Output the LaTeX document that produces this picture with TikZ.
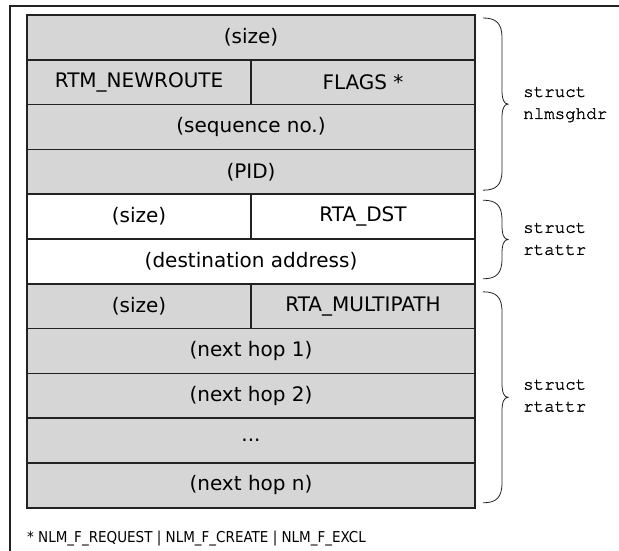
\documentclass[tikz,border=0pt]{standalone}
\usepackage{fontspec}
\setmainfont{DejaVu Sans}
\setmonofont[Extension=.otf,UprightFont=texgyrecursor-regular,FakeBold=1.6]{texgyrecursor}
\newfontfamily\notefont[FakeStretch=0.9]{DejaVu Sans}
\usetikzlibrary{positioning,calc}
\definecolor{cellgray}{RGB}{214,214,214}
\definecolor{linegray}{RGB}{34,34,34}

\newcommand{\fieldbrace}[2]{%
  \draw[brc] let \p1=(#1), \p2=(#2), \p3=($(#1)!0.5!(#2)$) in
    (\x1,\y1) .. controls (\x1+13pt,\y1) and (\x1+19pt,\y1-5pt) .. (\x1+19pt,\y1-20pt)
    -- (\x1+19pt,\y3+14pt)
    .. controls (\x1+19pt,\y3+5pt) and (\x1+21pt,\y3) .. (\x1+25pt,\y3)
    .. controls (\x1+21pt,\y3) and (\x1+19pt,\y3-5pt) .. (\x1+19pt,\y3-14pt)
    -- (\x1+19pt,\y2+20pt)
    .. controls (\x1+19pt,\y2+5pt) and (\x1+13pt,\y2) .. (\x1,\y2);}

\begin{document}
\begin{tikzpicture}[x=1pt,y=-1pt,
    cell/.style={draw=linegray, line width=1.6pt, outer sep=0pt, inner sep=0pt,
      minimum height=44.8pt, anchor=north west, font=\fontsize{20}{24}\selectfont},
    full/.style={cell, minimum width=448pt},
    half/.style={cell, minimum width=224pt},
    hdr/.style={fill=cellgray},
    attr/.style={fill=white},
    lbl/.style={font=\ttfamily\fontsize{17.5}{22}\selectfont, align=left, anchor=west, inner sep=0pt},
    brc/.style={draw=linegray, line width=0.8pt}]
    \useasboundingbox (0,0) rectangle (619,551);
    \draw[linegray, line width=2pt] (10,551) -- (10,6) -- (619,6);

    \node[full,hdr] (hdrsize) at (27,15) {(size)};
    \node[half,hdr,below right=0pt and 0pt of hdrsize.south west] (msgtype) {RTM\_NEWROUTE};
    \node[half,hdr,right=0pt of msgtype] (flags) {FLAGS *};
    \node[full,hdr,below right=0pt and 0pt of msgtype.south west] (seqno) {(sequence no.)};
    \node[full,hdr,below right=0pt and 0pt of seqno.south west] (pid) {(PID)};

    \node[half,attr,below right=0pt and 0pt of pid.south west] (dstsize) {(size)};
    \node[half,attr,right=0pt of dstsize] (dsttype) {RTA\_DST};
    \node[full,attr,below right=0pt and 0pt of dstsize.south west] (dstaddr) {(destination address)};

    \node[half,hdr,below right=0pt and 0pt of dstaddr.south west] (mpsize) {(size)};
    \node[half,hdr,right=0pt of mpsize] (mptype) {RTA\_MULTIPATH};
    \node[full,hdr,below right=0pt and 0pt of mpsize.south west] (hop1) {(next hop 1)};
    \node[full,hdr,below right=0pt and 0pt of hop1.south west] (hop2) {(next hop 2)};
    \node[full,hdr,below right=0pt and 0pt of hop2.south west] (hopdots) {...};
    \node[full,hdr,below right=0pt and 0pt of hopdots.south west] (hopn) {(next hop n)};

    \fieldbrace{[xshift=8pt,yshift=-3pt]hdrsize.north east}{[xshift=8pt,yshift=4pt]pid.south east}
    \fieldbrace{[xshift=8pt,yshift=-6pt]dsttype.north east}{[xshift=8pt,yshift=5pt]dstaddr.south east}
    \fieldbrace{[xshift=8pt,yshift=-8pt]mptype.north east}{[xshift=8pt,yshift=5pt]hopn.south east}

    \node[lbl,right=48pt of $(hdrsize.north east)!0.5!(pid.south east)$] (hdrlabel) {struct\\nlmsghdr};
    \node[lbl,right=48pt of $(dsttype.north east)!0.5!(dstaddr.south east)$] (dstlabel) {struct\\rtattr};
    \node[lbl,right=48pt of $(mptype.north east)!0.5!(hopn.south east)$] (mplabel) {struct\\rtattr};

    \node[anchor=base west, inner sep=0pt, font=\notefont\fontsize{15}{18}\selectfont] (flagnote) at (27,542)
      {* NLM\_F\_REQUEST | NLM\_F\_CREATE | NLM\_F\_EXCL};
\end{tikzpicture}
\end{document}
